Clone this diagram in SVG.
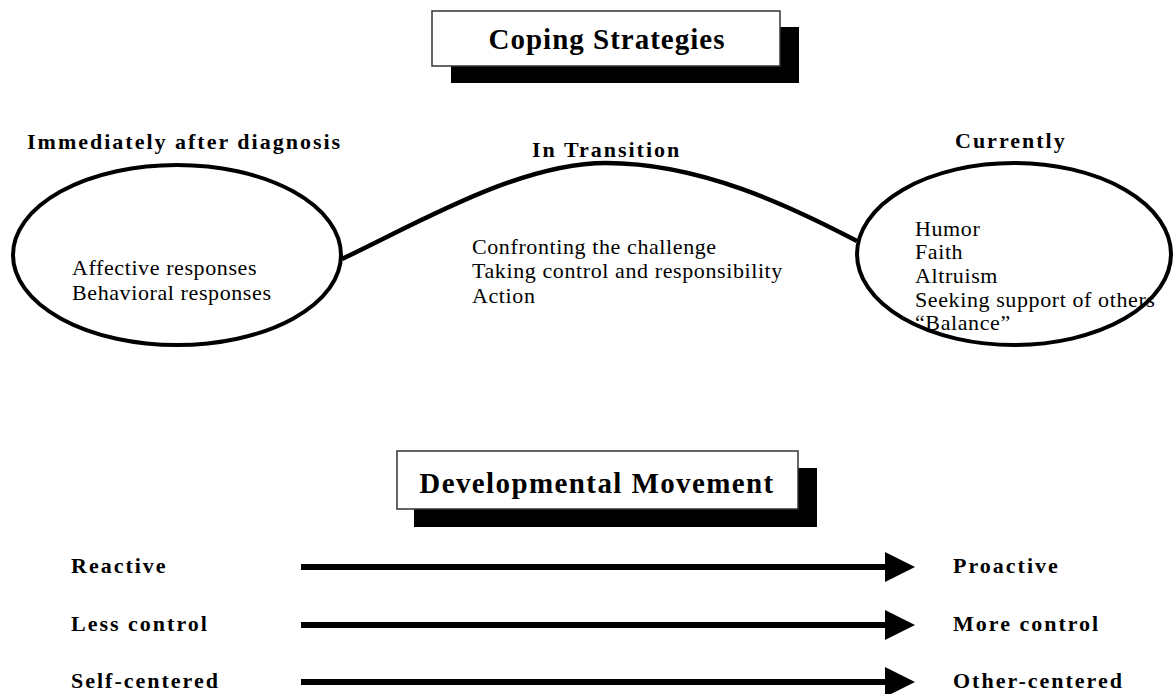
<svg xmlns="http://www.w3.org/2000/svg" width="1175" height="694" viewBox="0 0 1175 694">
<style>
.title{font-family:"Liberation Serif",serif;font-weight:bold;font-size:29px;fill:#000}
.lab{font-family:"Liberation Serif",serif;font-weight:bold;font-size:22px;letter-spacing:2px;fill:#000}
.body{font-family:"Liberation Serif",serif;font-size:22px;letter-spacing:0.6px;fill:#000}
.box{fill:#fff;stroke:#333;stroke-width:1.5}
.shadow{fill:#000}
.ell{fill:none;stroke:#000;stroke-width:4}
.conn{fill:none;stroke:#000;stroke-width:4.5}
.arr{stroke:#000;stroke-width:6}
</style>
<defs>
<marker id="head" markerUnits="userSpaceOnUse" markerWidth="32" markerHeight="32" refX="0" refY="15" orient="auto">
<path d="M0,0 L30,15 L0,30 Z" fill="#000"/>
</marker>
</defs>
<rect width="1175" height="694" fill="#fff"/>

<g id="title-coping">
<rect class="shadow" x="451" y="27" width="348" height="56"/>
<rect class="box" x="432" y="11" width="348" height="55"/>
<text class="title" x="607" y="49" text-anchor="middle" letter-spacing="1">Coping Strategies</text>
</g>

<g id="connectors">
<path class="conn" d="M342,259 C420,222 520,163 606,163 C700,163 790,206 857,241"/>
<line class="arr" x1="301" y1="567" x2="885" y2="567" marker-end="url(#head)"/>
<line class="arr" x1="301" y1="625" x2="885" y2="625" marker-end="url(#head)"/>
<line class="arr" x1="301" y1="682" x2="885" y2="682" marker-end="url(#head)"/>
</g>

<g id="node-immediately">
<text class="lab" x="27" y="149">Immediately after diagnosis</text>
<ellipse class="ell" cx="177" cy="255" rx="164" ry="90"/>
<text class="body" x="72" y="275">Affective responses</text>
<text class="body" x="72" y="300">Behavioral responses</text>
</g>

<g id="node-transition">
<text class="lab" x="532" y="157">In Transition</text>
<text class="body" x="472" y="254" letter-spacing="0.8">Confronting the challenge</text>
<text class="body" x="472" y="278" letter-spacing="0.8">Taking control and responsibility</text>
<text class="body" x="472" y="303" letter-spacing="0.8">Action</text>
</g>

<g id="node-currently">
<text class="lab" x="955" y="148">Currently</text>
<ellipse class="ell" cx="1014" cy="254" rx="157" ry="91"/>
<text class="body" x="915" y="236" letter-spacing="1.6">Humor</text>
<text class="body" x="915" y="259" letter-spacing="1.6">Faith</text>
<text class="body" x="915" y="283" letter-spacing="1.6">Altruism</text>
<text class="body" x="915" y="307" letter-spacing="1.6">Seeking support of others</text>
<text class="body" x="915" y="330" letter-spacing="1.6">“Balance”</text>
</g>

<g id="title-developmental">
<rect class="shadow" x="414" y="468" width="403" height="59"/>
<rect class="box" x="397" y="451" width="401" height="58"/>
<text class="title" x="597" y="493" text-anchor="middle" letter-spacing="1.4">Developmental Movement</text>
</g>

<g id="row-reactive">
<text class="lab" x="71" y="573">Reactive</text>
<text class="lab" x="953" y="573">Proactive</text>
</g>
<g id="row-control">
<text class="lab" x="71" y="631">Less control</text>
<text class="lab" x="953" y="631">More control</text>
</g>
<g id="row-centered">
<text class="lab" x="71" y="688">Self-centered</text>
<text class="lab" x="953" y="688">Other-centered</text>
</g>
</svg>
